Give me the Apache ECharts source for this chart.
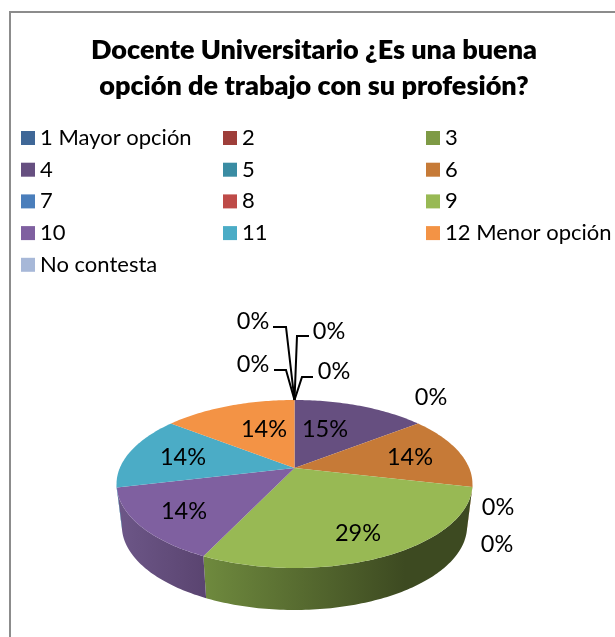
<!DOCTYPE html>
<html>
<head>
<meta charset="utf-8">
<style>html,body{margin:0;padding:0;background:#fff}#c{width:615px;height:637px}</style>
<script src="https://cdn.jsdelivr.net/npm/echarts@6/dist/echarts.min.js"></script>
</head>
<body>
<div id="c"></div>
<script>
var titleText = 'Docente Universitario ¿Es una buena\nopción de trabajo con su profesión?';
var categories = ['1 Mayor opción','2','3','4','5','6','7','8','9','10','11','12 Menor opción','No contesta'];
var shares = [0,0,0,14.51,0,14.1,0,0,28.5,14.19,14.2,14.5,0];
var percentLabels = ['0%','0%','0%','15%','0%','14%','0%','0%','29%','14%','14%','14%','0%'];
var topColors = ['#3F6797','#9E3E3A','#7E9A45','#664F80','#3A8CA3','#C67A37','#4A7EBB','#BE4B48','#98B954','#7F60A0','#4BACC6','#F39345','#A7B8D8'];
var wallColors = {8:['#6F8A3E','#3D4A21'],9:['#6D5788','#5A4470']};
var legendCols = [[0,3,6,9,12],[1,4,7,10],[2,5,8,11]];
var legendLefts = [21,223,426];

// projection of the tilted disc
var CX=294.5, CY=468, K=174.7, P=0.1905, A=-8.19, DEPTH=42, BX=0.97;
function rim(deg){
  var r=deg*Math.PI/180, s=Math.sin(r), t=-Math.cos(r), d=1-P*t;
  return [CX+K*s/d,(A*t+CY)/d];
}
function rimLow(deg){
  var p=rim(deg);
  return [CX+(p[0]-CX)*BX,p[1]+DEPTH];
}
var FRONT_FROM=101, FRONT_TO=259;

// label anchors, in slice order
var labelAt = [[253,321],[329,331],[253,364],[325,429],[431,397],[410,457],[498,507],[497,544],[358,533],[184,511],[183,457],[264,429],[334,371]];
var leaders = {
  0:[[273,327],[286,327],[294.5,400]],
  1:[[309,336],[297,336],[294.5,400]],
  2:[[274,370],[286,370],[294.5,400]],
  12:[[313,377],[302,377],[294.5,400]]
};

var total = shares.reduce(function(a,b){return a+b;},0);
function startOf(i){
  var s=0; for(var j=0;j<i;j++) s+=shares[j];
  return s;
}
function makeRender(i){
  return function(params,api){
    var v=api.value(0), a0=startOf(i)/total*360, a1=a0+v/total*360, kids=[];
    if(v>0){
      var lo=Math.max(a0,FRONT_FROM), hi=Math.min(a1,FRONT_TO);
      if(hi>lo){
        var up=[],down=[];
        for(var a=lo;a<hi;a+=1){up.push(rim(a));down.push(rimLow(a));}
        up.push(rim(hi));down.push(rimLow(hi));
        var wc=wallColors[i]||[topColors[i],topColors[i]];
        kids.push({type:'polygon',shape:{points:up.concat(down.reverse())},
          style:{fill:new echarts.graphic.LinearGradient(0,0,1,0,[
            {offset:0,color:wc[0]},{offset:i===8?0.75:1,color:wc[1]},{offset:1,color:wc[1]}])}});
      }
      var pts=[[CX,CY]];
      for(var b=a0;b<a1;b+=1) pts.push(rim(b));
      pts.push(rim(a1));
      kids.push({type:'polygon',shape:{points:pts},style:{fill:topColors[i]}});
    }
    if(leaders[i]){
      kids.push({type:'polyline',shape:{points:leaders[i]},
        style:{stroke:'#000',lineWidth:2,fill:null}});
    }
    kids.push({type:'text',x:labelAt[i][0],y:labelAt[i][1],z2:50,
      style:{text:percentLabels[i],fill:'#000',font:'23.5px Lato',align:'center',verticalAlign:'middle'}});
    return {type:'group',children:kids};
  };
}

var series = categories.map(function(name,i){
  return {
    type:'custom',name:name,coordinateSystem:'none',silent:true,animation:false,
    z: 2+(shares[i]>0?0:1),
    itemStyle:{color:topColors[i]},
    data:[[shares[i]]],
    renderItem:makeRender(i)
  };
});

var legends = legendCols.map(function(col,c){
  return {
    orient:'vertical',left:legendLefts[c],top:127,padding:0,itemWidth:14,itemHeight:14,itemGap:9.7,
    icon:'rect',selectedMode:false,
    data:col.map(function(i){return categories[i];}),
    textStyle:{fontFamily:'Lato',fontSize:22,lineHeight:22,color:'#000'}
  };
});

var chart = echarts.init(document.getElementById('c'),null,{renderer:'canvas'});
chart.setOption({
  backgroundColor:'#fff',
  animation:false,
  title:{text:titleText,left:314,top:32,textAlign:'center',padding:0,
    textStyle:{fontFamily:'Lato',fontWeight:800,fontSize:27,lineHeight:36,color:'#000'}},
  legend:legends,
  graphic:[{type:'polyline',silent:true,shape:{points:[[10,640],[10,12],[620,12]]},
    style:{stroke:'#8c8c8c',lineWidth:2,fill:null}}],
  series:series
});
</script>
</body>
</html>
